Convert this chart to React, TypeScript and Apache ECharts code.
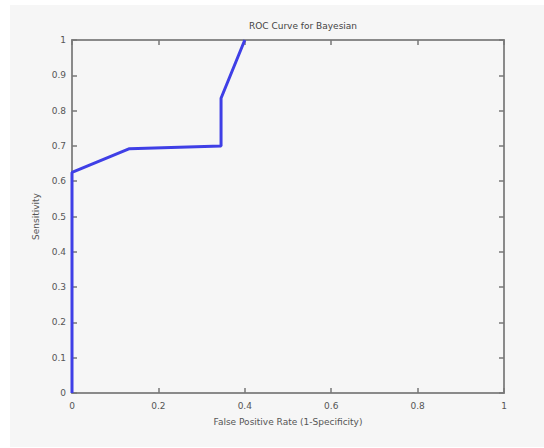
import React, { useEffect, useRef } from "react";
import * as echarts from "echarts";

const fpr = [0, 0, 0.133, 0.345, 0.345, 0.4];
const tpr = [0, 0.625, 0.692, 0.7, 0.835, 1];
const titleText = "ROC Curve for Bayesian";
const xName = "False Positive Rate (1-Specificity)";
const yName = "Sensitivity";

export default function App() {
  const ref = useRef<HTMLDivElement>(null);
  useEffect(() => {
    const chart = echarts.init(ref.current!, null, { renderer: "svg" });
    const axisCommon = {
      type: "value" as const,
      min: 0,
      max: 1,
      axisLine: { show: true, onZero: false, lineStyle: { color: "#8a8a8a", width: 2 } },
      axisTick: { show: true, inside: true, length: 5, lineStyle: { color: "#777", width: 1.5 } },
      splitLine: { show: false },
    };
    const labelStyle = { color: "#555", fontSize: 9, fontFamily: "DejaVu Sans" };
    chart.setOption({
      animation: false,
      backgroundColor: "#ffffff",
      graphic: [
        { type: "rect", z: -10, shape: { x: 10, y: 5, width: 534, height: 442 }, style: { fill: "#f6f6f6" } },
      ],
      title: {
        text: titleText,
        left: 298,
        textAlign: "center",
        top: 16,
        textStyle: { color: "#444", fontSize: 9, fontWeight: "normal", fontFamily: "DejaVu Sans" },
      },
      grid: { left: 72, right: 40, top: 40, bottom: 55 },
      xAxis: [
        {
          ...axisCommon,
          position: "bottom",
          interval: 0.2,
          axisLabel: { ...labelStyle, margin: 8, formatter: (v: number) => String(+v.toFixed(1)) },
          name: xName,
          nameLocation: "middle",
          nameGap: 24,
          nameTextStyle: { ...labelStyle },
        },
        {
          ...axisCommon,
          position: "top",
          interval: 0.2,
          axisLabel: { show: false },
        },
      ],
      yAxis: [
        {
          ...axisCommon,
          position: "left",
          interval: 0.1,
          axisLabel: { ...labelStyle, margin: 6, formatter: (v: number) => String(+v.toFixed(1)) },
          name: yName,
          nameLocation: "middle",
          nameGap: 30,
          nameTextStyle: { ...labelStyle },
        },
        {
          ...axisCommon,
          position: "right",
          interval: 0.1,
          axisLabel: { show: false },
        },
      ],
      series: [
        {
          type: "line",
          data: fpr.map((x, i) => [x, tpr[i]]),
          symbol: "none",
          lineStyle: { color: "#3f3fe6", width: 3 },
        },
      ],
    });
    return () => chart.dispose();
  }, []);
  return <div ref={ref} style={{ position: "fixed", left: 0, top: 0, width: 544, height: 448 }} />;
}
